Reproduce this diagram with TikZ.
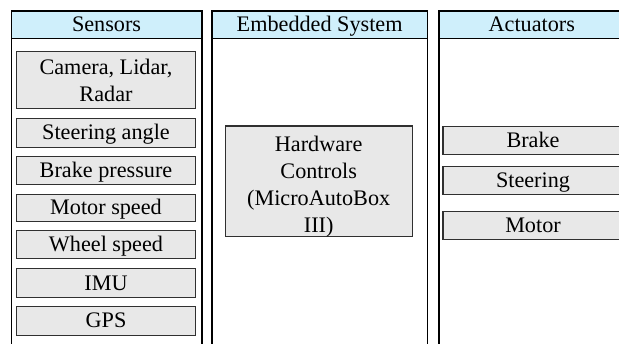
\documentclass[tikz,border=0pt]{standalone}
\usepackage{fontspec}
\setmainfont{Liberation Serif}
\begin{document}
\begin{tikzpicture}[x=1pt,y=-1pt,
  panel/.style={draw=black,line width=1.6pt,fill=white,rectangle,inner sep=0pt,anchor=north west},
  head/.style={draw=black,line width=1.6pt,fill=headblue,rectangle,inner sep=0pt,anchor=north west,
    font=\fontsize{22.2}{26}\selectfont,text height=14.6pt,text depth=0pt},
  item/.style={draw=boxedge,line width=1.1pt,fill=boxgray,rectangle,inner sep=0pt,align=center,
    font=\fontsize{22.2}{27}\selectfont,text=black},
  single/.style={item,text height=14.2pt,text depth=0pt},
]
\definecolor{headblue}{HTML}{CFEFFB}
\definecolor{boxgray}{HTML}{E8E8E8}
\definecolor{boxedge}{HTML}{303030}
\useasboundingbox (0,0) rectangle (619,343);
\clip (0,0) rectangle (619,343);
% panels
\node[panel,minimum width=190.5pt,minimum height=340pt] (ps) at (10.5,10) {};
\node[panel,minimum width=215.7pt,minimum height=340pt] (pe) at (211,10) {};
\node[panel,minimum width=186pt,minimum height=340pt] (pa) at (438,10) {};
% headers
\node[head,minimum width=190.5pt,minimum height=27.7pt] (hs) at (10.5,10) {Sensors};
\node[head,minimum width=215.7pt,minimum height=27.7pt] (he) at (211,10) {Embedded System};
\node[head,minimum width=186pt,minimum height=27.7pt] (ha) at (438,10) {Actuators};
% sensors
\node[item,minimum width=179.4pt,minimum height=56.6pt] (cam) at (106,80) {Camera, Lidar,\\Radar};
\node[single,minimum width=179.4pt,minimum height=28.5pt] (steer) at (106,132.8) {Steering angle};
\node[single,minimum width=179.4pt,minimum height=28.5pt] (bp) at (106,170.5) {Brake pressure};
\node[single,minimum width=179.4pt,minimum height=27.5pt] (ms) at (106,207.8) {Motor speed};
\node[single,minimum width=179.4pt,minimum height=28.5pt] (ws) at (106,244.6) {Wheel speed};
\node[single,minimum width=179.4pt,minimum height=28.5pt] (imu) at (106,282.9) {IMU};
\node[single,minimum width=179.4pt,minimum height=28.5pt] (gps) at (106,320.8) {GPS};
% embedded
\node[item,minimum width=187.3pt,minimum height=110.7pt] (hw) at (318.7,181.4) {\rule{0pt}{25pt}Hardware\\Controls\\(MicroAutoBox\\III)};
% actuators
\node[single,minimum width=180pt,minimum height=28.3pt] (brake) at (533,140.2) {Brake};
\node[single,minimum width=180pt,minimum height=28.5pt] (asteer) at (533,180.5) {Steering};
\node[single,minimum width=180pt,minimum height=28.3pt] (motor) at (533,225.2) {Motor};
\end{tikzpicture}
\end{document}
